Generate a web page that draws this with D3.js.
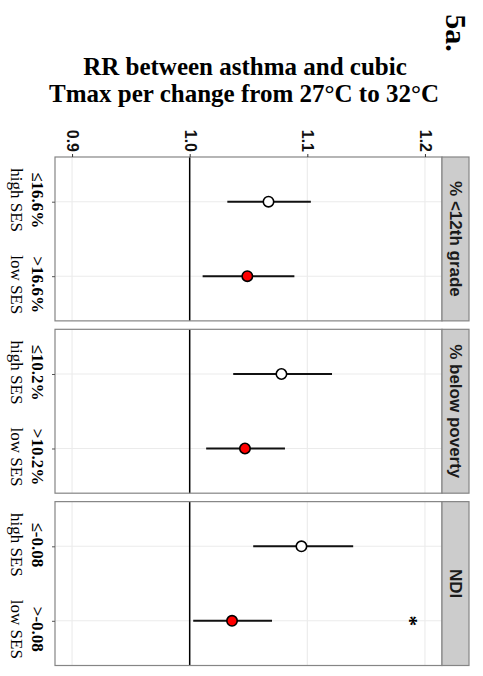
<!DOCTYPE html>
<html>
<head>
<meta charset="utf-8">
<script src="https://cdn.jsdelivr.net/npm/d3@7"></script>
<style>
  body { margin: 0; background: #fff; }
  svg { display: block; }
</style>
</head>
<body>
<div id="chart"></div>
<script>
// facets (strips) and the two SES groups inside each one
var facets = ["% <12th grade", "% below poverty", "NDI"];
var groups = ["high", "low"];
var groupNames = ["high SES", "low SES"];
var cutLabels = [["≤16.6%", ">16.6%"], ["≤10.2%", ">10.2%"], ["≤-0.08", ">-0.08"]];

// RR estimates, [high, low] per facet
var estimate = [[1.067, 1.049], [1.078, 1.047], [1.095, 1.036]];
var lower = [[1.032, 1.011], [1.037, 1.014], [1.054, 1.003]];
var upper = [[1.103, 1.089], [1.121, 1.081], [1.139, 1.070]];
var signif = [["", ""], ["", ""], ["", "*"]]; // star marks the difference
var signifAt = 1.19;

var rrTicks = [0.9, 1.0, 1.1, 1.2];

var width = 483, height = 676;

var svg = d3.select("#chart").append("svg")
  .attr("width", width)
  .attr("height", height);

var sans = "'Liberation Sans', Arial, sans-serif";
var serif = "'Liberation Serif', 'Times New Roman', serif";

// title (the plot itself is turned a quarter turn clockwise)
var title = svg.append("text")
  .attr("text-anchor", "middle")
  .style("font-family", serif)
  .style("font-weight", "bold")
  .style("font-size", "25px");
title.append("tspan").attr("x", 245).attr("y", 75).text("RR between asthma and cubic");
title.append("tspan").attr("x", 244).attr("y", 102).text("Tmax per change from 27°C to 32°C");

svg.append("text")
  .attr("transform", "translate(456,33) rotate(90)")
  .attr("text-anchor", "middle")
  .attr("dy", "0.35em")
  .style("font-family", serif)
  .style("font-weight", "bold")
  .style("font-size", "30px")
  .text("5a.");

var x = d3.scaleLinear().domain([0.8855, 1.2145]).range([55, 442]);

var facetBand = d3.scaleBand()
  .domain(facets)
  .range([157, 665.5])
  .paddingInner(0.049);

var stripW = 27;

facets.forEach(function (f, i) {
  var top = facetBand(f), bh = facetBand.bandwidth();
  var y = d3.scalePoint().domain(groups).range([top, top + bh]).padding(0.6);
  var g = svg.append("g");

  // panel background + grid
  g.append("rect")
    .attr("x", x.range()[0]).attr("y", top)
    .attr("width", x.range()[1] - x.range()[0]).attr("height", bh)
    .attr("fill", "#fff");

  g.selectAll(".vgrid").data(rrTicks).enter().append("line")
    .attr("x1", function (d) { return x(d); })
    .attr("x2", function (d) { return x(d); })
    .attr("y1", top).attr("y2", top + bh)
    .attr("stroke", "#ebebeb").attr("stroke-width", 1.1);

  g.selectAll(".hgrid").data(groups).enter().append("line")
    .attr("x1", x.range()[0]).attr("x2", x.range()[1])
    .attr("y1", function (d) { return y(d); })
    .attr("y2", function (d) { return y(d); })
    .attr("stroke", "#ebebeb").attr("stroke-width", 1.1);

  // reference line at RR = 1
  g.append("line")
    .attr("x1", x(1)).attr("x2", x(1))
    .attr("y1", top).attr("y2", top + bh)
    .attr("stroke", "#000").attr("stroke-width", 1.5);

  // error bars
  g.selectAll(".ci").data(groups).enter().append("line")
    .attr("x1", function (d, j) { return x(lower[i][j]); })
    .attr("x2", function (d, j) { return x(upper[i][j]); })
    .attr("y1", function (d) { return y(d); })
    .attr("y2", function (d) { return y(d); })
    .attr("stroke", "#111").attr("stroke-width", 2);

  g.selectAll(".pt").data(groups).enter().append("circle")
    .attr("cx", function (d, j) { return x(estimate[i][j]); })
    .attr("cy", function (d) { return y(d); })
    .attr("r", 5.2)
    .attr("fill", function (d, j) { return j == 0 ? "#fff" : "#ff0000"; })
    .attr("stroke", "#000").attr("stroke-width", 1.6);

  // significance star
  g.selectAll(".star").data(groups.filter(function (d, j) { return signif[i][j] != ""; }))
    .enter().append("text")
    .attr("transform", function (d) { return "translate(" + x(signifAt) + "," + y(d) + ") rotate(90)"; })
    .attr("text-anchor", "middle")
    .attr("dy", "0.5em")
    .style("font-family", serif)
    .style("font-weight", "bold")
    .style("font-size", "21px")
    .text(function (d) { return signif[i][groups.indexOf(d)]; });

  // panel border
  g.append("rect")
    .attr("x", x.range()[0]).attr("y", top)
    .attr("width", x.range()[1] - x.range()[0]).attr("height", bh)
    .attr("fill", "none").attr("stroke", "#858585").attr("stroke-width", 1.2);

  // strip on the right
  g.append("rect")
    .attr("x", x.range()[1]).attr("y", top)
    .attr("width", stripW).attr("height", bh)
    .attr("fill", "#cccccc").attr("stroke", "#858585").attr("stroke-width", 1.2);

  g.append("text")
    .attr("transform", "translate(" + (x.range()[1] + stripW / 2) + "," + (top + bh / 2) + ") rotate(90)")
    .attr("text-anchor", "middle")
    .attr("dy", "0.35em")
    .style("font-family", sans)
    .style("font-weight", "bold")
    .style("font-size", "17px")
    .attr("fill", "#1a1a1a")
    .text(f);

  // category axis on the left
  var catAxis = g.append("g")
    .attr("transform", "translate(" + x.range()[0] + ",0)")
    .call(d3.axisLeft(y).tickSize(3).tickFormat(""));
  catAxis.select(".domain").remove();
  catAxis.selectAll(".tick line").attr("stroke", "#555");

  catAxis.selectAll(".tick").each(function (d, j) {
    var t = d3.select(this).append("text")
      .attr("transform", "translate(-17," + (j == 0 ? -2 : 8) + ") rotate(90)")
      .attr("text-anchor", "middle")
      .attr("fill", "#000")
      .style("font-family", serif)
      .style("font-size", "17px");
    t.append("tspan").attr("x", 0).attr("dy", "0.35em")
      .style("font-weight", "bold").text(cutLabels[i][j]);
    t.append("tspan").attr("x", 0).attr("dy", 21)
      .text(groupNames[j]);
  });

  // RR axis only above the first panel
  if (i == 0) {
    var rrAxis = g.append("g")
      .attr("transform", "translate(0," + top + ")")
      .call(d3.axisTop(x).tickValues(rrTicks).tickSize(3).tickFormat(d3.format(".1f")));
    rrAxis.select(".domain").remove();
    rrAxis.selectAll(".tick line").attr("stroke", "#333");
    rrAxis.selectAll(".tick text")
      .attr("x", null).attr("y", null).attr("dy", "0.35em")
      .attr("transform", "translate(0,-5) rotate(90)")
      .attr("text-anchor", "end")
      .attr("fill", "#111")
      .style("font-family", sans)
      .style("font-weight", "bold")
      .style("font-size", "16px");
  }
});
</script>
</body>
</html>
